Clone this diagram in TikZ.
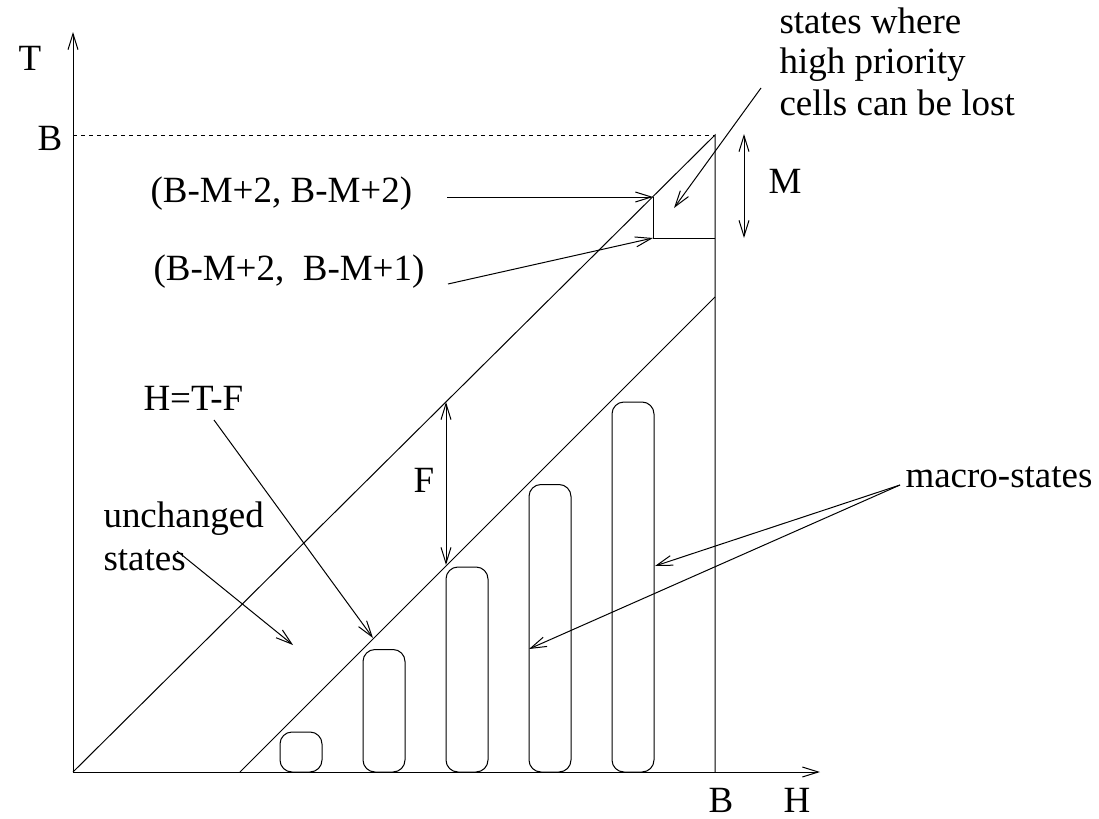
\documentclass[tikz,border=0pt]{standalone}
\usepackage{fontspec}
\setmainfont{Liberation Serif}
\usetikzlibrary{arrows.meta, positioning}
\tikzset{
  every picture/.style={line width=0.5pt},
  lbl/.style={font=\fontsize{18.5}{20}\selectfont, inner sep=0pt},
  arrow/.style={-{Straight Barb[length=8pt, width=5pt]}},
  both/.style={{Straight Barb[length=8pt, width=5pt]}-{Straight Barb[length=8pt, width=5pt]}},
  macro/.style={draw, rounded corners=6pt},
}

\begin{document}
\begin{tikzpicture}[x=0.5pt, y=-0.5pt]
  \useasboundingbox (0,0) rectangle (1099,819);
  % axes
  \coordinate (O) at (73,772);
  \coordinate (Tend) at (73,32);
  \coordinate (Hend) at (820,772);
  \draw[arrow] (O) -- (Tend);
  \draw[arrow] (O) -- (Hend);
  \node[lbl, anchor=base] (tlab) at (30,70) {T};
  \node[lbl, anchor=base] (hlab) at (797,812) {H};
  \node[lbl, anchor=base] (bxlab) at (721,812) {B};
  \node[lbl, anchor=base] (bylab) at (50,150) {B};
  % the B x B corner and the two diagonals
  \coordinate (By) at (73,135);
  \coordinate (BB) at (715,135);
  \coordinate (Bb) at (715,772);
  \draw[dash pattern=on 2pt off 2pt] (By) -- (BB);
  \draw (Bb) -- (BB) -- (O);
  \coordinate (Fs) at (240,772);
  \coordinate (Fe) at (715,297);
  \draw (Fs) -- (Fe);
  % states where high priority cells are lost
  \coordinate (c22) at (653,197);
  \coordinate (c21) at (653,238);
  \coordinate (cB) at (715,238);
  \draw (c22) -- (c21) -- (cB);
  \coordinate (Mt) at (744,134);
  \coordinate (Mb) at (744,238);
  \draw[both] (Mt) -- (Mb);
  \node[lbl, anchor=base west] (mlab) at (768,193) {M};
  \node[lbl, anchor=base west] (p22) at (150,202) {(B-M+2, B-M+2)};
  \node[lbl, anchor=base west] (p21) at (153,280) {(B-M+2,\ \ B-M+1)};
  \coordinate (a22) at (447,197);
  \coordinate (a21) at (448,284);
  \draw[arrow] (a22) -- (c22);
  \draw[arrow] (a21) -- (c21);
  \node[lbl, anchor=base west] (sw1) at (779,33) {states where};
  \node[lbl, anchor=base west] (sw2) at (779,73) {high priority};
  \node[lbl, anchor=base west] (sw3) at (779,115) {cells can be lost};
  \coordinate (swa) at (761,88);
  \coordinate (swt) at (674,208);
  \draw[arrow] (swa) -- (swt);
  % F gap between the diagonals
  \coordinate (Ft) at (446,402);
  \coordinate (Fb) at (446,565);
  \draw[both] (Ft) -- (Fb);
  \node[lbl, anchor=base west] (flab) at (413,492) {F};
  \node[lbl, anchor=base west] (hflab) at (143,410) {H=T-F};
  \coordinate (hfa) at (214,420);
  \coordinate (hft) at (373,638);
  \draw[arrow] (hfa) -- (hft);
  \node[lbl, anchor=base west] (un1) at (103,527) {unchanged};
  \node[lbl, anchor=base west] (un2) at (103,570) {states};
  \coordinate (una) at (177,551);
  \coordinate (unt) at (293,645);
  \draw[arrow] (una) -- (unt);
  % macro-states
  \foreach \i in {0,...,4}
    \draw[macro] ({280+83*\i},772) rectangle ({322+83*\i},{732-82.5*\i});
  \node[lbl, anchor=base west] (mslab) at (905,487) {macro-states};
  \coordinate (msa) at (900,485);
  \coordinate (ms1) at (655,566);
  \coordinate (ms2) at (529,649);
  \draw[arrow] (msa) -- (ms1);
  \draw[arrow] (msa) -- (ms2);
\end{tikzpicture}
\end{document}
